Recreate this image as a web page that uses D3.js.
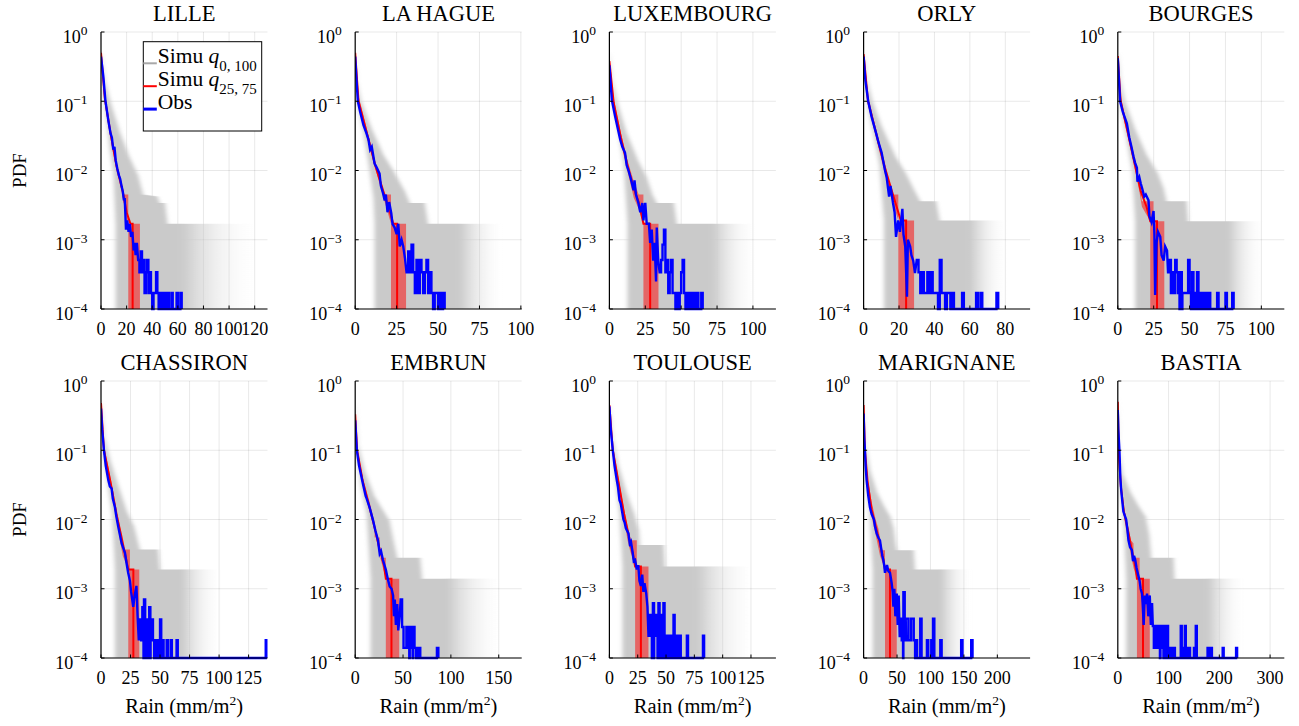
<!DOCTYPE html>
<html>
<head>
<meta charset="utf-8">
<script src="https://d3js.org/d3.v7.min.js"></script>
<style>
  body { margin: 0; background: #fff; }
  svg text { font-family: 'Liberation Serif', 'Times New Roman', serif; fill: #000; }
</style>
</head>
<body>
<svg id="chart" width="1299" height="726" font-family="Liberation Serif, serif"></svg>
<script>
/* station order: top row then bottom row */
const stations = ['LILLE', 'LA HAGUE', 'LUXEMBOURG', 'ORLY', 'BOURGES', 'CHASSIRON', 'EMBRUN', 'TOULOUSE', 'MARIGNANE', 'BASTIA']
const xMax = [130, 100.5, 116, 94, 116, 141, 174, 147, 249, 328]
const xStep = [20, 25, 25, 20, 25, 25, 50, 25, 50, 100]
const yExponents = [0, -1, -2, -3, -4]
const binWidth = [1, 1, 1, 1, 1, 1, 1.5, 1, 2, 2]

// Simu q0,100 envelope: upper edge (ends at the solid plateau) and lower edge (drops to 0 after last point)
const grayUpper = [
  [[0, 0.55], [3, 0.2], [8, 0.09], [15, 0.035], [22, 0.016], [29, 0.0085], [33, 0.0045], [44, 0.0042], [46, 0.0034], [50, 0.0034], [52, 0.0017], [63, 0.0017]],
  [[0, 0.55], [1, 0.2], [3.6, 0.1], [10, 0.04], [17, 0.017], [23, 0.01], [30, 0.005], [33, 0.0034], [42, 0.0034], [44, 0.0017], [63, 0.0017]],
  [[0, 0.55], [2, 0.2], [6, 0.09], [12, 0.035], [20, 0.014], [26, 0.008], [30, 0.0045], [33, 0.0034], [45, 0.0034], [47, 0.0017], [72, 0.0017]],
  [[0, 0.55], [2, 0.2], [5, 0.1], [10, 0.045], [18, 0.016], [24, 0.009], [29, 0.005], [32, 0.0036], [41, 0.0036], [43, 0.0019], [60, 0.0019]],
  [[0, 0.55], [2, 0.2], [5, 0.1], [12, 0.04], [20, 0.017], [28, 0.009], [32, 0.0055], [34, 0.0036], [48, 0.0036], [49, 0.00185], [77, 0.00185]],
  [[0, 0.55], [3, 0.15], [8, 0.07], [15, 0.03], [22, 0.013], [28, 0.008], [31, 0.005], [33, 0.0037], [48.5, 0.0037], [50, 0.0019], [68, 0.0019]],
  [[0, 0.5], [3, 0.12], [10, 0.05], [20, 0.022], [30, 0.013], [36, 0.0095], [40, 0.005], [44, 0.0028], [68, 0.0028], [70, 0.0014], [96, 0.0014]],
  [[0, 0.55], [3, 0.15], [8, 0.06], [15, 0.025], [22, 0.012], [26, 0.007], [27, 0.0043], [48, 0.0043], [49, 0.0021], [77, 0.0021]],
  [[0, 0.55], [3, 0.12], [10, 0.05], [20, 0.025], [30, 0.016], [40, 0.011], [45, 0.0075], [48, 0.0045], [50, 0.0036], [75, 0.0036], [77, 0.0019], [115, 0.0019]],
  [[0, 0.6], [3, 0.1], [10, 0.045], [25, 0.025], [40, 0.016], [55, 0.011], [62, 0.006], [66, 0.0028], [110, 0.0028], [112, 0.0014], [177, 0.0014]]
]
const grayLower = [
  [[0, 0.35], [2, 0.12], [4, 0.06], [7, 0.02], [9.6, 0.01], [11.4, 0.0017]],
  [[0, 0.3], [1.5, 0.09], [5, 0.035], [8.7, 0.01], [11, 0.004], [11.7, 0.0017]],
  [[0, 0.3], [3, 0.08], [7, 0.03], [10, 0.012], [12.6, 0.0017]],
  [[0, 0.3], [2.5, 0.08], [6, 0.03], [9, 0.012], [11.5, 0.0019]],
  [[0, 0.3], [2, 0.08], [6, 0.03], [10, 0.01], [12.1, 0.00185]],
  [[0, 0.3], [2.5, 0.08], [6, 0.03], [9.5, 0.012], [11.8, 0.0019]],
  [[0, 0.25], [2, 0.08], [6, 0.03], [12, 0.012], [16.1, 0.0014]],
  [[0, 0.3], [3, 0.08], [6, 0.03], [9, 0.012], [11.5, 0.0021]],
  [[0, 0.25], [2, 0.06], [5, 0.025], [9, 0.012], [13.5, 0.0019]],
  [[0, 0.25], [2, 0.05], [6, 0.02], [12, 0.008], [16.5, 0.0014]]
]
// where the faint simulated tail fades out
const grayFadeEnd = [118, 88, 100, 80, 100, 100, 150, 125, 160, 245]

// Simu q25,75 band
const redUpper = [
  [[0, 0.55], [2, 0.22], [4, 0.1], [8, 0.035], [12, 0.013], [16, 0.0065], [17.4, 0.0045], [21.3, 0.0045], [21.3, 0.0017], [30.4, 0.0017]],
  [[0, 0.55], [2, 0.12], [7, 0.04], [12, 0.014], [16, 0.0065], [17.8, 0.0045], [21.6, 0.0045], [21.6, 0.0017], [30.7, 0.0017]],
  [[0, 0.42], [3, 0.11], [8, 0.035], [13, 0.013], [17, 0.007], [20.4, 0.0045], [23.7, 0.0045], [23.7, 0.0017], [34.2, 0.0017]],
  [[0, 0.55], [2.5, 0.12], [7, 0.04], [12, 0.013], [15, 0.006], [16.8, 0.0045], [19.6, 0.0045], [19.6, 0.0019], [28.5, 0.0019]],
  [[0, 0.5], [2, 0.12], [7, 0.04], [12, 0.015], [15, 0.007], [16.8, 0.0036], [24.9, 0.0036], [24.9, 0.00185], [32.4, 0.00185]],
  [[0, 0.55], [2.5, 0.12], [8, 0.04], [13, 0.015], [16, 0.008], [18.4, 0.0045], [18.4, 0.0037], [24.5, 0.0037], [24.5, 0.0019], [32.4, 0.0019]],
  [[0, 0.4], [2, 0.11], [8, 0.04], [15, 0.018], [20.3, 0.009], [20.3, 0.0055], [25.6, 0.0055], [25.6, 0.0028], [32, 0.0028], [32, 0.0014], [46, 0.0014]],
  [[0, 0.5], [3, 0.12], [8, 0.04], [13, 0.014], [16, 0.008], [18.3, 0.005], [24.2, 0.005], [24.2, 0.0021], [34.5, 0.0021]],
  [[0, 0.55], [2, 0.12], [6, 0.04], [12, 0.018], [18, 0.01], [22, 0.0075], [24.5, 0.0055], [24.5, 0.0036], [32, 0.0036], [32, 0.0019], [49.6, 0.0019]],
  [[0, 0.6], [2, 0.1], [6, 0.035], [12, 0.015], [20, 0.008], [26, 0.005], [31, 0.0045], [31, 0.0028], [43, 0.0028], [43, 0.0014], [63, 0.0014]]
]
const redLower = [
  [[0, 0.4], [3, 0.09], [8, 0.025], [12, 0.01], [16, 0.005], [19, 0.0025], [21.3, 0.0015]],
  [[0, 0.4], [2, 0.09], [7, 0.03], [12, 0.011], [15, 0.006], [17.8, 0.0035], [21.6, 0.0017]],
  [[0, 0.33], [3, 0.08], [8, 0.025], [13, 0.009], [17, 0.004], [20.4, 0.0028], [23.7, 0.0017]],
  [[0, 0.4], [2.5, 0.09], [7, 0.03], [12, 0.009], [15, 0.0045], [16.8, 0.0032], [19.6, 0.0019]],
  [[0, 0.38], [2, 0.09], [7, 0.03], [12, 0.01], [15, 0.005], [16.8, 0.003], [22.6, 0.00185]],
  [[0, 0.4], [2.5, 0.09], [8, 0.03], [13, 0.011], [16, 0.005], [18.4, 0.003], [23.1, 0.0019]],
  [[0, 0.25], [2, 0.09], [8, 0.03], [15, 0.013], [20, 0.007], [25.6, 0.003], [32, 0.0014]],
  [[0, 0.38], [3, 0.09], [8, 0.03], [13, 0.01], [16, 0.005], [18.3, 0.0035], [22.7, 0.0021]],
  [[0, 0.35], [2, 0.08], [6, 0.025], [12, 0.011], [18, 0.006], [24.5, 0.003], [32, 0.0019]],
  [[0, 0.35], [2, 0.07], [6, 0.025], [12, 0.011], [20, 0.005], [26, 0.003], [31, 0.002], [37.7, 0.0014]]
]
const redMedian = [
  [[0, 0.5], [3, 0.11], [8, 0.03], [12, 0.012], [17, 0.005], [20, 0.0025], [23, 0.0017], [24.7, 0.0017], [24.7, 0]],
  [[0, 0.5], [2, 0.1], [7, 0.035], [12, 0.012], [17, 0.005], [21, 0.0025], [23, 0.0017], [25.3, 0.0017], [25.3, 0]],
  [[0, 0.38], [3, 0.095], [8, 0.03], [13, 0.011], [17, 0.0055], [20.4, 0.0035], [23.7, 0.0017], [28.4, 0.0017], [28.4, 0]],
  [[0, 0.48], [2.5, 0.1], [7, 0.035], [12, 0.011], [16, 0.005], [19.6, 0.0025], [21, 0.0019], [24, 0.0019], [24, 0]],
  [[0, 0.45], [2, 0.1], [7, 0.035], [12, 0.012], [16, 0.005], [20, 0.003], [22.6, 0.00185], [27.3, 0.00185], [27.3, 0]],
  [[0, 0.48], [2.5, 0.1], [8, 0.035], [13, 0.012], [17, 0.006], [21, 0.0028], [23.1, 0.0019], [27.4, 0.0019], [27.4, 0]],
  [[0, 0.33], [2, 0.1], [8, 0.035], [15, 0.015], [20, 0.008], [25, 0.004], [30, 0.0022], [32, 0.0014], [37.9, 0.0014], [37.9, 0]],
  [[0, 0.45], [3, 0.1], [8, 0.035], [13, 0.012], [17, 0.006], [21, 0.003], [22.7, 0.0021], [27.8, 0.0021], [27.8, 0]],
  [[0, 0.45], [2, 0.1], [6, 0.035], [12, 0.014], [18, 0.008], [24.5, 0.0045], [30, 0.0025], [32, 0.0019], [39.5, 0.0019], [39.5, 0]],
  [[0, 0.5], [2, 0.09], [6, 0.03], [12, 0.013], [20, 0.007], [28, 0.0035], [35, 0.002], [37.7, 0.0014], [49.7, 0.0014], [49.7, 0]]
]

// observed histogram: body of the curve, then sparse tail bins (bin start, value)
const obsHead = [
  [[0, 0.44], [1.8, 0.23], [3.4, 0.104], [5.7, 0.053], [7.5, 0.034], [8.5, 0.03], [9.6, 0.02], [10.5, 0.022], [11.5, 0.014], [12.7, 0.0107], [14, 0.0085], [15, 0.0075], [16.1, 0.0059], [17, 0.005], [17.9, 0.0037], [18.5, 0.004], [19, 0.0024], [19.5, 0.0014], [20.5, 0.0019], [21.5, 0.0013], [22.5, 0.0017], [23.5, 0.0011], [24.5, 0.0013], [25.5, 0.0007], [26.3, 0.0009], [27, 0.0006], [28, 0.0009]],
  [[0, 0.44], [0.8, 0.2], [1.6, 0.1], [3, 0.07], [5, 0.045], [6.7, 0.035], [8, 0.028], [9, 0.02], [10, 0.022], [11.7, 0.0126], [13, 0.011], [14.7, 0.009], [15.5, 0.006], [16.8, 0.0047], [17.8, 0.0037], [18.5, 0.0045], [19.5, 0.0025], [20.5, 0.0035], [21.8, 0.0024], [22.5, 0.0017], [23.8, 0.0015], [25, 0.0012], [26, 0.0017], [26.9, 0.0008], [28, 0.001], [29, 0.0008], [30, 0.00055]],
  [[0, 0.33], [1.7, 0.104], [4, 0.06], [7.5, 0.028], [9, 0.022], [10.9, 0.018], [12, 0.012], [13.3, 0.01], [15, 0.0075], [16.8, 0.0052], [17.5, 0.0072], [18.5, 0.0045], [20.2, 0.0034], [21.5, 0.0025], [23, 0.0034], [23.7, 0.0019], [25, 0.0034], [26, 0.0017], [27.5, 0.0017], [28.4, 0.0009], [29.5, 0.0014], [30.5, 0.0005], [31.5, 0.0009], [32.5, 0.00025], [33, 0.0015], [34, 0.0005]],
  [[0, 0.44], [1, 0.2], [2.6, 0.1], [4.5, 0.06], [7, 0.035], [8.5, 0.025], [10.2, 0.018], [11, 0.014], [12.1, 0.01], [13, 0.008], [14.4, 0.0042], [15.2, 0.006], [16.6, 0.0034], [17.5, 0.0025], [18.3, 0.0011], [19.5, 0.0019], [20.5, 0.0013], [21.9, 0.0028], [22.5, 0.0012], [23.5, 0.0008], [24.5, 0.00015], [25, 0.001], [26.3, 0.0008], [27, 0.0006], [28, 0.0005], [29, 0.00033]],
  [[0, 0.42], [1.6, 0.1], [3.5, 0.07], [6.3, 0.048], [8, 0.03], [9.5, 0.022], [10.9, 0.016], [12, 0.013], [13.3, 0.011], [13.7, 0.0069], [15, 0.008], [16, 0.0065], [17, 0.0055], [18.4, 0.0042], [19.5, 0.0045], [21.4, 0.0037], [22, 0.0022], [23.5, 0.0018], [24.9, 0.0026], [25.5, 0.0012], [26, 0.00016], [27, 0.0009], [28, 0.0013], [29.6, 0.0011], [30.5, 0.0006], [32, 0.0005], [33, 0.0008], [34.3, 0.0007]],
  [[0, 0.4], [1, 0.2], [2.5, 0.1], [4, 0.06], [6.2, 0.037], [7.5, 0.03], [9, 0.028], [10, 0.02], [11.8, 0.015], [13, 0.011], [14.7, 0.0077], [16, 0.006], [17.5, 0.0045], [19, 0.0038], [20.3, 0.0033], [21.7, 0.0023], [23, 0.0017], [24.5, 0.0013], [25.5, 0.0009], [27.3, 0.00055], [28.5, 0.0008], [30, 0.0011], [31, 0.0004], [32, 0.00018]],
  [[0, 0.27], [1.7, 0.1], [4, 0.06], [8, 0.033], [10.9, 0.022], [12, 0.02], [15, 0.015], [18.6, 0.0098], [21, 0.007], [23.8, 0.005], [25.6, 0.0032], [27, 0.0035], [29, 0.0026], [32, 0.0019], [34, 0.0014], [36, 0.00108], [38, 0.001], [39.6, 0.0008], [40.5, 0.0004], [41.4, 0.0007], [42.5, 0.0003], [43.9, 0.0006], [45, 0.00025], [46.5, 0.0004]],
  [[0, 0.43], [1.2, 0.2], [3, 0.1], [4.5, 0.06], [6.5, 0.037], [7.5, 0.03], [8.9, 0.019], [10, 0.017], [12.4, 0.01], [13.5, 0.009], [14.5, 0.0075], [16.8, 0.0063], [18, 0.0045], [19, 0.0048], [20.7, 0.0032], [21.5, 0.0025], [22.7, 0.0026], [24.2, 0.0019], [25.5, 0.0022], [26.5, 0.0013], [27.8, 0.0011], [29, 0.0016], [30, 0.0009], [31, 0.0012], [32.5, 0.00086], [33.6, 0.00055]],
  [[0, 0.34], [1, 0.15], [2, 0.1], [3, 0.06], [4.5, 0.037], [7, 0.022], [9.5, 0.015], [12, 0.012], [15.5, 0.01], [17, 0.008], [19.5, 0.0063], [22, 0.0055], [24.5, 0.005], [26, 0.004], [28, 0.003], [29.5, 0.0026], [31, 0.0021], [32, 0.0017], [35, 0.0022], [37, 0.0018], [39.5, 0.0017], [42, 0.0012], [43.5, 0.0009], [44.5, 0.00055], [46, 0.001], [47.5, 0.0004], [49.6, 0.00085], [51, 0.0003], [52.5, 0.0008], [54, 0.0002]],
  [[0, 0.38], [1, 0.2], [3.2, 0.1], [5, 0.04], [6.6, 0.027], [9, 0.018], [11, 0.013], [16.5, 0.01], [19, 0.007], [21, 0.005], [24, 0.004], [27.8, 0.0036], [30, 0.0025], [32, 0.003], [34.4, 0.0026], [37, 0.002], [40, 0.0016], [43, 0.0013], [45, 0.001], [47.7, 0.00085], [49, 0.0006], [51, 0.0003], [53, 0.0008], [55, 0.0006], [57.6, 0.00085], [60, 0.0004], [63, 0.0008], [65, 0.0003], [67.5, 0.00062]]
]
const obsTail = [
  [[29, 5.1e-4], [30, 3.4e-4], [31, 6.8e-4], [32, 3.4e-4], [33, 5.1e-4], [34, 1.7e-4], [35, 3.4e-4], [36, 5.1e-4], [37, 1.7e-4], [38, 3.4e-4], [39, 1.7e-4], [41, 1.7e-4], [42, 1.7e-4], [43, 3.4e-4], [44, 1.7e-4], [46, 1.7e-4], [48, 1.7e-4], [50, 1.7e-4], [52, 1.7e-4], [55, 1.7e-4], [59, 1.7e-4], [62, 1.7e-4]],
  [[31, 3.4e-4], [32, 6.8e-4], [33, 3.4e-4], [34, 8.5e-4], [35, 3.4e-4], [36, 1.7e-4], [37, 5.1e-4], [38, 1.7e-4], [39, 5.1e-4], [40, 3.4e-4], [41, 1.7e-4], [42, 3.4e-4], [43, 5.1e-4], [44, 1.7e-4], [45, 3.4e-4], [46, 1.7e-4], [48, 1.7e-4], [49, 1.7e-4], [51, 1.7e-4], [53, 1.7e-4]],
  [[35, 3.4e-4], [36, 5.1e-4], [37, 8.5e-4], [38, 1.4e-3], [39, 3.4e-4], [40, 5.1e-4], [41, 1.7e-4], [42, 3.4e-4], [43, 5.1e-4], [44, 1.7e-4], [45, 1.7e-4], [47, 1.7e-4], [49, 1.7e-4], [50, 3.4e-4], [51, 5.1e-4], [52, 1.7e-4], [54, 1.7e-4], [56, 1.7e-4], [58.5, 1.7e-4], [61, 1.7e-4], [64, 1.7e-4]],
  [[30, 5.1e-4], [31, 3.4e-4], [32, 1.7e-4], [33, 3.4e-4], [34, 1.7e-4], [35, 1.7e-4], [36, 3.4e-4], [37, 1.7e-4], [38, 3.4e-4], [39, 1.7e-4], [40, 1.7e-4], [41, 1.7e-4], [43, 5.1e-4], [44, 1.7e-4], [45, 1.7e-4], [47, 1.7e-4], [48, 1.7e-4], [50, 1.7e-4], [55.6, 1.7e-4], [63.5, 1.7e-4], [66, 1.7e-4], [75, 1.7e-4]],
  [[35, 3.4e-4], [36, 5.1e-4], [37, 1.7e-4], [38, 3.4e-4], [39, 1.7e-4], [40, 5.1e-4], [41, 3.4e-4], [42, 1.7e-4], [43.6, 3.4e-4], [45, 1.7e-4], [46, 1.7e-4], [47, 1.7e-4], [48, 1.7e-4], [49, 5.1e-4], [50, 1.7e-4], [51.7, 3.4e-4], [53, 1.7e-4], [55.2, 3.4e-4], [57, 1.7e-4], [58.7, 1.7e-4], [61, 1.7e-4], [63.4, 1.7e-4], [69.2, 1.7e-4], [75, 1.7e-4], [79.7, 1.7e-4]],
  [[33, 3.6e-4], [34, 1.8e-4], [35, 5.4e-4], [36.4, 7e-4], [37.5, 1.8e-4], [38.5, 3.6e-4], [40, 1.8e-4], [40.8, 5.4e-4], [42, 1.8e-4], [43, 3.6e-4], [44, 1.8e-4], [46, 1.8e-4], [47, 1.8e-4], [48.5, 1.8e-4], [50, 3.6e-4], [52, 1.8e-4], [55.6, 1.8e-4], [59, 1.8e-4], [64, 1.8e-4], [139.5, 1.8e-4]],
  [[47.5, 7e-4], [49, 2.8e-4], [50.5, 1.4e-4], [52, 1.4e-4], [53.5, 2.8e-4], [55, 1.4e-4], [57, 2.8e-4], [58.5, 1.4e-4], [60.5, 2.8e-4], [62, 1.4e-4], [64.6, 1.4e-4], [66.5, 1.4e-4], [85.4, 1.4e-4]],
  [[34.5, 2.1e-4], [35.5, 4.2e-4], [36.5, 2.1e-4], [38.4, 6.2e-4], [39.5, 2.1e-4], [40.5, 4.2e-4], [41.5, 2.1e-4], [43.3, 6.2e-4], [44.5, 2.1e-4], [45.5, 4.2e-4], [47.7, 6.2e-4], [49, 2.1e-4], [50, 2.1e-4], [52, 2.1e-4], [53, 2.1e-4], [55, 2.1e-4], [56.6, 4.2e-4], [58, 2.1e-4], [60, 2.1e-4], [62, 2.1e-4], [68.4, 2.1e-4], [82.6, 2.1e-4]],
  [[55, 3.7e-4], [57, 1.8e-4], [59.5, 8.9e-4], [61.5, 1.8e-4], [63, 3.7e-4], [65, 3.7e-4], [67, 1.8e-4], [69, 1.8e-4], [71, 3.7e-4], [73, 3.7e-4], [75, 1.8e-4], [78, 1.8e-4], [84.7, 3.7e-4], [94.7, 1.8e-4], [101.2, 1.8e-4], [103.8, 3.7e-4], [114.7, 1.8e-4], [145.9, 1.8e-4], [160.9, 1.8e-4]],
  [[69, 2.9e-4], [71, 1.4e-4], [73, 2.9e-4], [75, 1.4e-4], [77, 2.9e-4], [79, 1.4e-4], [81, 2.9e-4], [84, 2.9e-4], [86, 1.4e-4], [88, 2.9e-4], [91, 1.4e-4], [94, 2.9e-4], [97, 2.9e-4], [101, 1.4e-4], [105, 1.4e-4], [110.5, 1.4e-4], [124, 2.9e-4], [128, 1.4e-4], [132, 2.9e-4], [136, 1.4e-4], [140.3, 1.4e-4], [150, 1.4e-4], [153.6, 2.9e-4], [176.8, 1.4e-4], [183.4, 1.4e-4], [206.6, 1.4e-4], [233, 1.4e-4]]
]

const legendLabels = ['Simu ', 'Simu ', 'Obs']
const legendSubs = ['0, 100', '25, 75', '']

const GRAY = '#cacaca'
const PLOT_W = 166.5
const PLOT_H = 277
const LEFT0 = 101
const COL_STEP = 254.2
const TOPS = [32, 381]
const Y_MIN = 1e-4

const svg = d3.select('#chart')

/** Build the vertices of a band: along the upper edge, down to zero, back along the lower edge */
function bandPoints (upper, lower) {
  const lastUp = upper[upper.length - 1]
  const lastLow = lower[lower.length - 1]
  return [...upper, [lastUp[0], 0], [lastLow[0], 0], ...lower.slice().reverse()]
}

/** Turn head points + sparse tail bins into one polyline (empty bins sit on the floor) */
function obsPoints (head, tail, w) {
  const pts = head.slice()
  let end = null
  tail.forEach(([x, v]) => {
    if (end !== null && x > end + 1e-9) pts.push([end, 0], [x, 0])
    pts.push([x, v], [x + w, v])
    end = x + w
  })
  if (end !== null) pts.push([end, 0])
  return pts
}

/** Draw one station panel
  * @param {Number} i index of the station
  */
function drawPanel (i) {
  const col = i % 5
  const row = Math.floor(i / 5)
  const g = svg.append('g')
    .attr('transform', `translate(${LEFT0 + col * COL_STEP},${TOPS[row]})`)

  const x = d3.scaleLinear().domain([0, xMax[i]]).range([0, PLOT_W])
  const y = d3.scaleLog().domain([Y_MIN, 1]).range([PLOT_H, 0])
  const line = d3.line().x(d => x(d[0])).y(d => y(Math.max(d[1], Y_MIN)))
  const xTicks = d3.range(0, xMax[i] + 1e-6, xStep[i])
  const yTicks = yExponents.map(e => Math.pow(10, e))

  g.append('clipPath').attr('id', 'clip' + i)
    .append('rect').attr('x', 0).attr('y', -2).attr('width', PLOT_W).attr('height', PLOT_H + 4)

  // grid
  g.selectAll('line.vgrid').data(xTicks).enter().append('line')
    .attr('x1', d => x(d)).attr('x2', d => x(d)).attr('y1', 0).attr('y2', PLOT_H)
    .attr('stroke', '#000').attr('stroke-opacity', 0.09).attr('stroke-width', 1)
  g.selectAll('line.hgrid').data(yTicks).enter().append('line')
    .attr('x1', 0).attr('x2', PLOT_W).attr('y1', d => y(d)).attr('y2', d => y(d))
    .attr('stroke', '#000').attr('stroke-opacity', 0.09).attr('stroke-width', 1)

  const data = g.append('g').attr('clip-path', `url(#clip${i})`)

  // simulations q0,100 (the many overlapping runs give a soft horizontal edge)
  const sim = data.append('g').attr('filter', 'url(#soft)')
  sim.append('path')
    .attr('d', line(bandPoints(grayUpper[i], grayLower[i])) + 'Z')
    .attr('fill', GRAY)
  const plateau = grayUpper[i][grayUpper[i].length - 1]
  sim.append('rect')
    .attr('x', x(plateau[0]) - 0.5)
    .attr('y', y(plateau[1]))
    .attr('width', x(grayFadeEnd[i]) - x(plateau[0]) + 0.5)
    .attr('height', PLOT_H - y(plateau[1]))
    .attr('fill', 'url(#fade)')

  // simulations q25,75
  data.append('path')
    .attr('d', line(bandPoints(redUpper[i], redLower[i])) + 'Z')
    .attr('fill', '#ff0000').attr('fill-opacity', 0.5)
  data.append('path')
    .attr('d', line(redMedian[i]))
    .attr('fill', 'none').attr('stroke', '#ff0000').attr('stroke-width', 2)

  // observations
  data.append('path')
    .attr('d', line(obsPoints(obsHead[i], obsTail[i], binWidth[i])))
    .attr('fill', 'none').attr('stroke', '#0000ff').attr('stroke-width', 2.4)

  // axes
  g.append('line').attr('x1', 0).attr('x2', 0).attr('y1', 0).attr('y2', PLOT_H)
    .attr('stroke', '#000').attr('stroke-width', 1.2)
  g.append('line').attr('x1', 0).attr('x2', PLOT_W).attr('y1', PLOT_H).attr('y2', PLOT_H)
    .attr('stroke', '#000').attr('stroke-width', 1.2)
  g.selectAll('line.xtick').data(xTicks).enter().append('line')
    .attr('x1', d => x(d)).attr('x2', d => x(d)).attr('y1', PLOT_H).attr('y2', PLOT_H - 3.5)
    .attr('stroke', '#000').attr('stroke-width', 1)
  g.selectAll('line.ytick').data(yTicks).enter().append('line')
    .attr('x1', 0).attr('x2', 3.5).attr('y1', d => y(d)).attr('y2', d => y(d))
    .attr('stroke', '#000').attr('stroke-width', 1)

  g.selectAll('text.xlab').data(xTicks).enter().append('text')
    .attr('x', d => x(d)).attr('y', PLOT_H + 26)
    .attr('text-anchor', 'middle').attr('font-size', 18)
    .text(d => d)

  const ylab = g.selectAll('text.ylab').data(yExponents).enter().append('text')
    .attr('x', -13.5).attr('y', e => y(Math.pow(10, e)) + 10.5)
    .attr('text-anchor', 'end').attr('font-size', 18)
  ylab.append('tspan').text('10')
  ylab.append('tspan').attr('dy', -7.5).attr('font-size', 13.5)
    .text(e => e === 0 ? '0' : '\u2212' + (-e))

  g.append('text')
    .attr('x', PLOT_W / 2).attr('y', -11)
    .attr('text-anchor', 'middle').attr('font-size', 22.5)
    .text(stations[i])

  if (row === 1) {
    const t = g.append('text')
      .attr('x', PLOT_W / 2).attr('y', PLOT_H + 55)
      .attr('text-anchor', 'middle').attr('font-size', 20.5)
    t.append('tspan').text('Rain (mm/m')
    t.append('tspan').attr('dy', -8).attr('font-size', 13.5).text('2')
    t.append('tspan').attr('dy', 8).text(')')
  }
  if (col === 0) {
    svg.append('text')
      .attr('transform', `translate(25.5,${TOPS[row] + PLOT_H / 2}) rotate(-90)`)
      .attr('text-anchor', 'middle').attr('font-size', 19)
      .text('PDF')
  }
  if (i === 0) drawLegend(g)
}

/** Legend of the first panel */
function drawLegend (g) {
  const colors = ['#a8a8a8', '#ff0000', '#0000ff']
  const widths = [2, 2, 3]
  const lg = g.append('g').attr('transform', 'translate(42.3,9.7)')
  lg.append('rect').attr('width', 118.4).attr('height', 89.3)
    .attr('fill', '#fff').attr('stroke', '#000').attr('stroke-width', 1)
  legendLabels.forEach((label, k) => {
    const yy = 21.6 + k * 22.9
    lg.append('line').attr('x1', 0).attr('x2', 13.5).attr('y1', yy).attr('y2', yy)
      .attr('stroke', colors[k]).attr('stroke-width', widths[k])
    const t = lg.append('text').attr('x', 14.5).attr('y', yy).attr('font-size', 21.5)
    t.append('tspan').text(label)
    if (legendSubs[k]) {
      t.append('tspan').attr('font-style', 'italic').text('q')
      t.append('tspan').attr('dy', 8).attr('font-size', 15).text(legendSubs[k])
    }
  })
}

function main () {
  const defs = svg.append('defs')
  defs.append('filter').attr('id', 'soft')
    .attr('x', '-10%').attr('y', '-10%').attr('width', '120%').attr('height', '120%')
    .append('feGaussianBlur').attr('stdDeviation', '2.2 0')
  const grad = defs.append('linearGradient').attr('id', 'fade')
    .attr('x1', 0).attr('x2', 1).attr('y1', 0).attr('y2', 0)
  ;[[0, 1], [0.25, 0.6], [0.5, 0.28], [0.75, 0.09], [1, 0]].forEach(([o, a]) => {
    grad.append('stop').attr('offset', o).attr('stop-color', GRAY).attr('stop-opacity', a)
  })
  stations.forEach((s, i) => drawPanel(i))
}

main()
</script>
</body>
</html>
